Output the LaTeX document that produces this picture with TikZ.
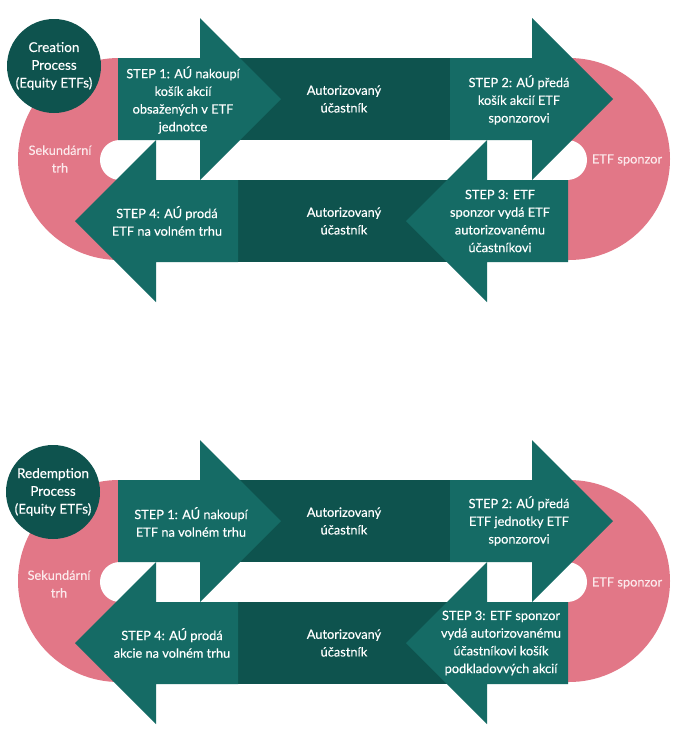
\documentclass[tikz,border=0pt]{standalone}
\usepackage{fontspec}
\setmainfont{Lato}[FakeBold=0.25]
\definecolor{tealA}{HTML}{156B65}
\definecolor{tealB}{HTML}{0E534E}
\definecolor{pinkB}{HTML}{E27787}
\definecolor{pinkT}{HTML}{FCE9EC}
\newcommand\etfshapes{%
  \fill[pinkB, rounded corners=100.9pt] (18,58) rectangle (670,260);
  \fill[white, rounded corners=19.9pt] (100,140) rectangle (587,180);
  \fill[tealB] (200,58) rectangle (452,140);
  \fill[tealB] (236,180) rectangle (488,262);
  \fill[tealA] (118,58) -- (200,58) -- (200,18) -- (281,99) -- (200,180) -- (200,140) -- (118,140) -- cycle;
  \fill[tealA] (450,58) -- (532,58) -- (532,18) -- (613,99) -- (532,180) -- (532,140) -- (450,140) -- cycle;
  \fill[tealA] (568,180) -- (487,180) -- (487,140) -- (406,221) -- (487,302) -- (487,262) -- (568,262) -- cycle;
  \fill[tealA] (238,180) -- (156,180) -- (156,140) -- (75,221) -- (156,302) -- (156,262) -- (238,262) -- cycle;
}
\begin{document}
\begin{tikzpicture}[x=1pt,y=-1pt,
  txt/.style={text=white, align=center, font=\fontsize{12.8}{17.7}\selectfont, inner sep=0pt},
  ptxt/.style={txt, text=pinkT},
  badge/.style={circle, fill=tealB, minimum size=94pt, inner sep=0pt, txt, font=\fontsize{13.5}{17.8}\selectfont}]
\useasboundingbox (0,0) rectangle (676,750);
\fill[white] (0,0) rectangle (676,750);
% ---------- Creation ----------
\etfshapes
\node[badge] (c1) at (54,66) {Creation\\Process\\(Equity ETFs)};
\node[ptxt] (sek1) at (60,159) {Sekundární\\trh};
\node[ptxt] (spon1) at (627,160) {ETF sponzor};
\node[txt] (s11) at (183,100) {STEP 1: AÚ nakoupí\\košík akcií\\obsažených v ETF\\jednotce};
\node[txt] (a11) at (344,99) {Autorizovaný\\účastník};
\node[txt] (s12) at (519,100) {STEP 2: AÚ předá\\košík akcií ETF\\sponzorovi};
\node[txt] (s13) at (500,221) {STEP 3: ETF\\sponzor vydá ETF\\autorizovanému\\účastníkovi};
\node[txt] (a12) at (344,221) {Autorizovaný\\účastník};
\node[txt] (s14) at (167,221) {STEP 4: AÚ prodá\\ETF na volném trhu};
% ---------- Redemption ----------
\begin{scope}[yshift=-422pt]
\etfshapes
\node[badge] (c2) at (53,70) {Redemption\\Process\\(Equity ETFs)};
\node[ptxt] (sek2) at (59,162) {Sekundární\\trh};
\node[ptxt] (spon2) at (627,161) {ETF sponzor};
\node[txt] (s21) at (191,100) {STEP 1: AÚ nakoupí\\ETF na volném trhu};
\node[txt] (a21) at (344,99) {Autorizovaný\\účastník};
\node[txt] (s22) at (519,99) {STEP 2: AÚ předá\\ETF jednotky ETF\\sponzorovi};
\node[txt] (s23) at (501,221) {STEP 3: ETF sponzor\\vydá autorizovanému\\účastníkovi košík\\podkladovvých akcií};
\node[txt] (a22) at (344,221) {Autorizovaný\\účastník};
\node[txt] (s24) at (172,221) {STEP 4: AÚ prodá\\akcie na volném trhu};
\end{scope}
\end{tikzpicture}
\end{document}
